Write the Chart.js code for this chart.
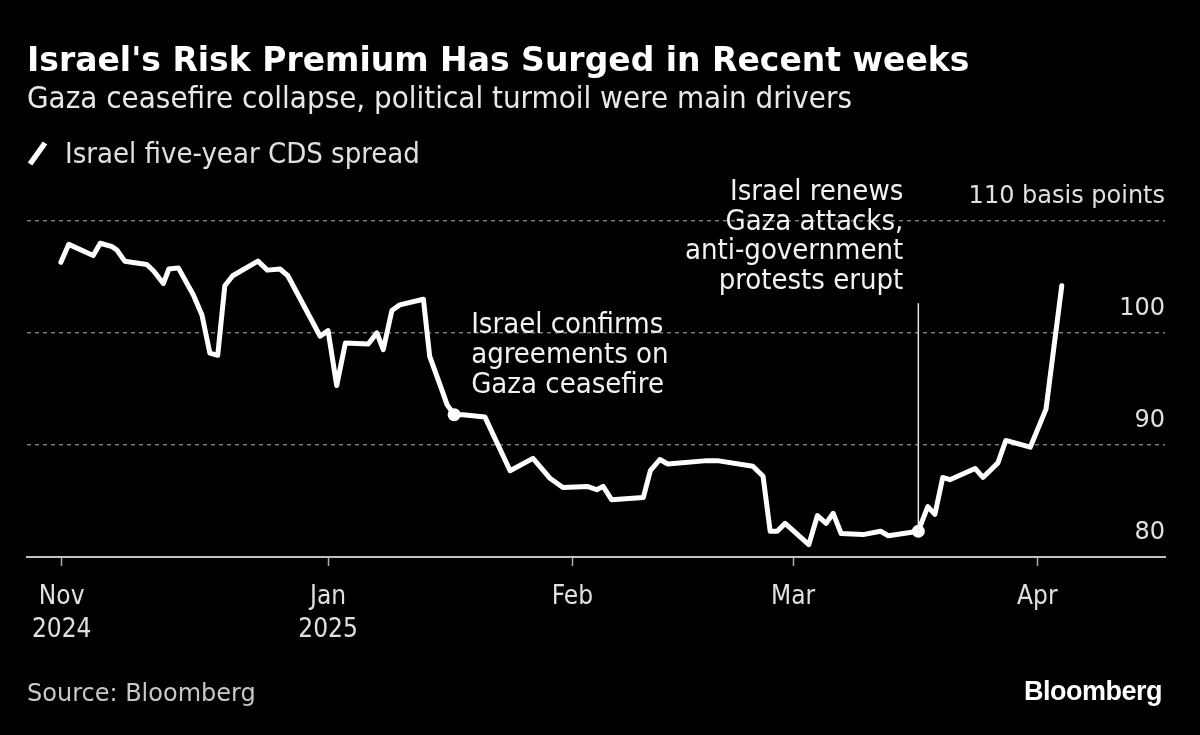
<!DOCTYPE html>
<html>
<head>
<meta charset="utf-8">
<script src="https://cdn.jsdelivr.net/npm/chart.js@4.4.1/dist/chart.umd.min.js"></script>
<style>
  html, body { margin:0; padding:0; background:#000; }
  #wrap { position:relative; width:1200px; height:735px; background:#000; overflow:hidden; font-family:"DejaVu Sans", sans-serif; }
  canvas { position:absolute; left:0; top:0; }
  .t { position:absolute; white-space:nowrap; }
  .cond { font-family:"DejaVu Sans Condensed", "DejaVu Sans", sans-serif; }
  #title { left:27px; top:40px; font-size:33px; line-height:40px; font-weight:bold; color:#fff; }
  #subtitle { left:27px; top:79px; font-size:31px; line-height:36px; color:#e8e8e8; }
  #legend { left:65px; top:135px; font-size:29px; line-height:36px; color:#e0e0e0; }
  #source { left:27px; top:678px; font-size:24px; line-height:30px; color:#c8c8c8; }
  #logo { right:38px; top:676px; font-size:27px; line-height:30px; font-weight:bold; color:#fff; font-family:"Liberation Sans", Arial, sans-serif; letter-spacing:-0.5px; }
  #legicon { position:absolute; left:26px; top:139px; }
</style>
</head>
<body>
<div id="wrap">
  <canvas id="c" width="1200" height="735"></canvas>
  <div class="t" id="title">Israel's Risk Premium Has Surged in Recent weeks</div>
  <div class="t cond" id="subtitle">Gaza ceasefire collapse, political turmoil were main drivers</div>
  <svg id="legicon" width="24" height="28"><line x1="4" y1="25" x2="19" y2="4" stroke="#fff" stroke-width="5.5" stroke-linecap="butt"/></svg>
  <div class="t cond" id="legend">Israel five-year CDS spread</div>
  <div class="t" id="source">Source: Bloomberg</div>
  <div class="t" id="logo">Bloomberg</div>
</div>
<script>
// ---- data (x = days relative to 1 Jan 2025, as laid out on the chart's time axis) ----
const xDays = [-33.9,-32.9,-29.8,-28.9,-27.4,-26.8,-25.8,-23.0,-22.1,-20.9,
  -20.2,-19.0,-17.1,-16.0,-15.0,-14.0,-13.1,-12.1,-8.9,-7.7,
  -6.1,-5.1,-1.0,0,1.1,2.2,5.1,6.2,7.0,8.1,
  9.1,12.1,12.9,14.6,15.1,16.0,17.1,19.9,23.1,26.0,
  28.2,29.8,32.9,34.1,34.9,36.0,40.0,40.9,42.1,43.1,
  48.1,49.4,53.9,55.2,56.1,57.0,58.0,61.0,62.1,63.2,
  64.1,65.1,67.9,70.1,71.1,73.0,74.9,76.1,77.0,78.0,
  78.9,82.1,83.1,85.0,86.0,89.1,91.1,93.1];
const cds = [106.3,107.9,106.9,108.0,107.7,107.4,106.4,106.1,105.5,104.4,
  105.7,105.8,103.4,101.6,98.2,98.0,104.2,105.1,106.4,105.6,
  105.7,105.1,99.7,100.2,95.3,99.1,99.0,100.0,98.5,102.0,
  102.5,103.0,97.9,94.6,93.6,92.7,92.7,92.5,87.7,88.8,
  87.0,86.2,86.3,86.0,86.3,85.1,85.3,87.7,88.7,88.3,
  88.6,88.6,88.1,87.2,82.3,82.3,83.0,81.1,83.7,83.0,
  83.9,82.1,82.0,82.3,81.9,82.1,82.3,84.5,83.8,87.1,
  86.9,87.9,87.1,88.4,90.4,89.8,93.2,104.2];
const xTickDays = [-33.8, 0, 31, 59, 90];
const xTickLabels = [['Nov','2024'], ['Jan','2025'], ['Feb'], ['Mar'], ['Apr']];
const yTicks = [80, 90, 100, 110];
const yTickLabels = ['80', '90', '100', '110 basis points'];
const eventX = [16.0, 74.9];
const eventY = [92.7, 82.3];
const eventText = [
  ['Israel confirms', 'agreements on', 'Gaza ceasefire'],
  ['Israel renews', 'Gaza attacks,', 'anti-government', 'protests erupt']
];
const seriesName = 'Israel five-year CDS spread';

const FONT = '"DejaVu Sans", sans-serif';
const COND = '"DejaVu Sans Condensed", "DejaVu Sans", sans-serif';
const NOTE_FONT = '29px ' + COND;

const annotationPlugin = {
  id: 'eventNotes',
  afterDatasetsDraw(chart) {
    const ctx = chart.ctx, xs = chart.scales.x, ys = chart.scales.y;
    ctx.save();
    ctx.font = NOTE_FONT;
    ctx.fillStyle = '#f2f2f2';
    ctx.textBaseline = 'middle';
    // event 1: text to the upper right of the point
    {
      const px = xs.getPixelForValue(eventX[0]), py = ys.getPixelForValue(eventY[0]);
      ctx.textAlign = 'left';
      eventText[0].forEach((s, i) => ctx.fillText(s, px + 17, py - 89 + i * 30));
    }
    // event 2: leader line up from point, text right-aligned above
    {
      const px = xs.getPixelForValue(eventX[1]), py = ys.getPixelForValue(eventY[1]);
      ctx.strokeStyle = '#e6e6e6';
      ctx.lineWidth = 1.5;
      ctx.beginPath();
      ctx.moveTo(px, py);
      ctx.lineTo(px, py - 228);
      ctx.stroke();
      ctx.textAlign = 'right';
      const n = eventText[1].length;
      eventText[1].forEach((s, i) => ctx.fillText(s, px - 15, py - 250 - (n - 1 - i) * 29.5));
    }
    ctx.restore();
  }
};

new Chart(document.getElementById('c'), {
  type: 'line',
  data: {
    datasets: [
      {
        label: 'events',
        type: 'scatter',
        data: eventX.map((x, i) => ({ x, y: eventY[i] })),
        pointRadius: 6.5,
        pointBackgroundColor: '#fff',
        pointBorderWidth: 0,
        order: 0
      },
      {
        label: seriesName,
        data: xDays.map((x, i) => ({ x, y: cds[i] })),
        borderColor: '#fff',
        borderWidth: 5,
        pointRadius: 0,
        tension: 0,
        borderJoinStyle: 'round',
        borderCapStyle: 'round',
        fill: false,
        order: 1
      }
    ]
  },
  options: {
    responsive: false,
    animation: false,
    layout: { padding: { left: 27, right: 35, top: 176, bottom: 77 } },
    plugins: { legend: { display: false }, tooltip: { enabled: false } },
    scales: {
      x: {
        type: 'linear',
        min: -38.2,
        max: 106.2,
        afterBuildTicks: s => { s.ticks = xTickDays.map(v => ({ value: v })); },
        afterFit: s => { s.height = 101; },
        ticks: {
          autoSkip: false,
          maxRotation: 0,
          padding: 14,
          color: '#e0e0e0',
          font: { family: COND, size: 26, lineHeight: '33.5px' },
          callback: v => { const i = xTickDays.indexOf(v); return i >= 0 ? xTickLabels[i] : ''; }
        },
        grid: { drawOnChartArea: false, drawTicks: true, tickLength: 9, tickColor: '#b0b0b0', tickWidth: 1.5 },
        border: { display: true, color: '#c0c0c0', width: 2 }
      },
      y: {
        position: 'right',
        min: 80,
        max: 114,
        afterBuildTicks: s => { s.ticks = yTicks.map(v => ({ value: v })); },
        afterFit: s => { s.width = 0; },
        ticks: {
          mirror: true,
          padding: 0,
          labelOffset: -24,
          color: '#e0e0e0',
          font: { family: FONT, size: 24 },
          callback: v => { const i = yTicks.indexOf(v); return i >= 0 ? yTickLabels[i] : ''; }
        },
        grid: {
          drawTicks: false,
          lineWidth: 1.5,
          color: c => (c.tick && c.tick.value === 80) ? 'rgba(0,0,0,0)' : '#7a7a7a'
        },
        border: { display: false, dash: [4, 4] }
      }
    }
  },
  plugins: [annotationPlugin]
});
</script>
</body>
</html>
